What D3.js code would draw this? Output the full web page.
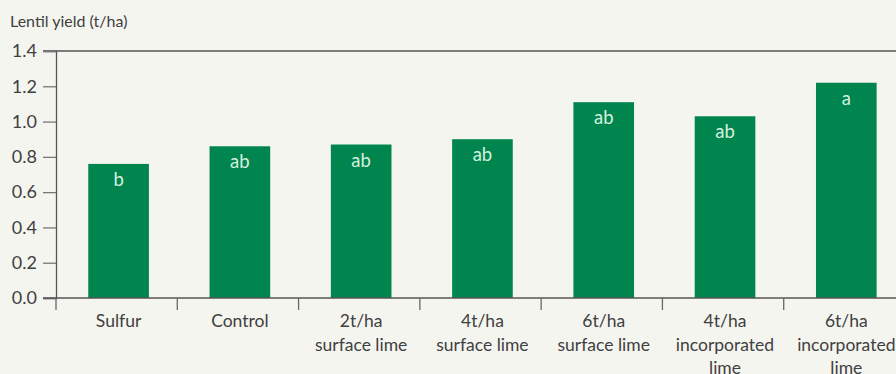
<!DOCTYPE html>
<html>
<head>
<meta charset="utf-8">
<script src="https://cdn.jsdelivr.net/npm/d3@7"></script>
<style>
  html, body { margin: 0; padding: 0; background: #f5f5f0; }
  svg { display: block; }
  text { font-family: "Lato", "Open Sans", sans-serif; }
</style>
</head>
<body>
<svg id="chart" width="896" height="374"></svg>
<script>
// Lentil yield by treatment (t/ha) with significance letters
const categories = [
  ["Sulfur"],
  ["Control"],
  ["2t/ha", "surface lime"],
  ["4t/ha", "surface lime"],
  ["6t/ha", "surface lime"],
  ["4t/ha", "incorporated", "lime"],
  ["6t/ha", "incorporated", "lime"]
];
const yieldValues = [0.76, 0.86, 0.87, 0.90, 1.11, 1.03, 1.22];
const letters = ["b", "ab", "ab", "ab", "ab", "ab", "a"];
const yTicks = [0, 0.2, 0.4, 0.6, 0.8, 1.0, 1.2, 1.4];
const yTitle = "Lentil yield (t/ha)";

const svg = d3.select("#chart");
const plot = { left: 56, right: 905, top: 51, bottom: 298 };
const ids = categories.map((c, i) => i);

const x = d3.scaleBand().domain(ids).range([plot.left, plot.right]).padding(0);
const y = d3.scaleLinear().domain([0, 1.4]).range([plot.bottom, plot.top]);
const barW = x.bandwidth() * 0.5;
const barOffset = x.bandwidth() * 0.266;

const green = "#00854f";
const textCol = "#404040";
const axisCol = "#555";
const font = "Lato, 'Open Sans', sans-serif";

// y axis title
svg.append("text")
  .attr("x", 10).attr("y", 27)
  .attr("font-size", 16).attr("fill", textCol)
  .text(yTitle);

// bars
svg.append("g").selectAll("rect")
  .data(yieldValues)
  .join("rect")
  .attr("x", (d, i) => x(i) + barOffset)
  .attr("width", barW)
  .attr("y", d => y(d))
  .attr("height", d => y(0) - y(d))
  .attr("fill", green);

// significance letters inside bars
svg.append("g").selectAll("text")
  .data(yieldValues)
  .join("text")
  .attr("x", (d, i) => x(i) + barOffset + barW / 2)
  .attr("y", d => y(d) + 22)
  .attr("text-anchor", "middle")
  .attr("font-size", 18.5)
  .attr("fill", "#d6efdf")
  .text((d, i) => letters[i]);

// top frame line at 1.4
svg.append("line")
  .attr("x1", 43).attr("x2", 896)
  .attr("y1", y(1.4)).attr("y2", y(1.4))
  .attr("stroke", axisCol).attr("stroke-width", 1.3);

// y axis
const yAxis = svg.append("g")
  .attr("transform", `translate(${plot.left},0)`)
  .call(d3.axisLeft(y).tickValues(yTicks).tickFormat(d3.format(".1f")).tickSize(13).tickPadding(6));
yAxis.select(".domain").attr("stroke", axisCol).attr("stroke-width", 1.3);
yAxis.selectAll(".tick line").attr("stroke", "#777").attr("stroke-width", 1.3);
yAxis.selectAll(".tick text")
  .attr("font-size", 18).attr("fill", textCol)
  .attr("font-family", font);

// x baseline
svg.append("line")
  .attr("x1", 43).attr("x2", 896)
  .attr("y1", y(0)).attr("y2", y(0))
  .attr("stroke", axisCol).attr("stroke-width", 1.3);

// category boundary ticks
svg.append("g").selectAll("line")
  .data(ids)
  .join("line")
  .attr("x1", d => x(d)).attr("x2", d => x(d))
  .attr("y1", y(0)).attr("y2", y(0) + 12)
  .attr("stroke", "#666").attr("stroke-width", 1.3);

// category labels
const lab = svg.append("g").selectAll("text")
  .data(categories)
  .join("text")
  .attr("x", (d, i) => x(i) + barOffset + barW / 2)
  .attr("y", 327)
  .attr("text-anchor", "middle")
  .attr("font-size", 17.5)
  .attr("fill", textCol);
lab.selectAll("tspan")
  .data(d => d)
  .join("tspan")
  .attr("x", function () { return this.parentNode.getAttribute("x"); })
  .attr("dy", (d, i) => i === 0 ? 0 : 23.5)
  .text(d => d);
</script>
</body>
</html>
